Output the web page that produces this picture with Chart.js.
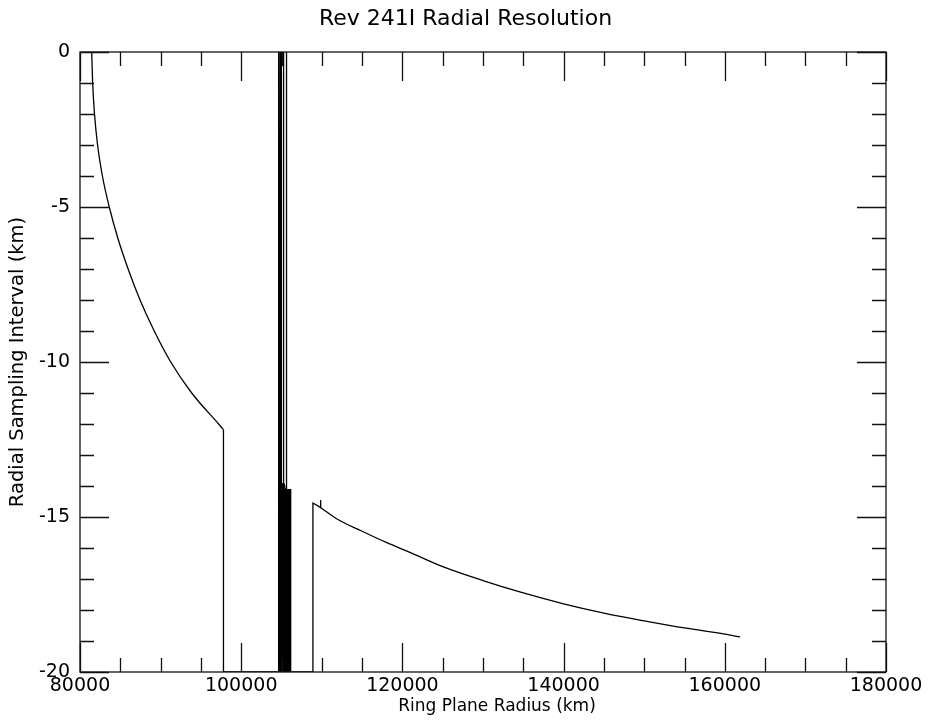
<!DOCTYPE html>
<html>
<head>
<meta charset="utf-8">
<script src="https://cdn.jsdelivr.net/npm/chart.js@4/dist/chart.umd.min.js"></script>
<style>
  body { margin: 0; background: #fff; }
  canvas { display: block; }
</style>
</head>
<body>
<canvas id="resChart" width="931" height="725"></canvas>
<script>
// axis ranges and ticks
const xLimits = [80000, 180000];
const yLimits = [-20, 0];
const xLabelStep = 20000;
const yLabelStep = 5;
const xMinorStep = 5000;
const yMinorStep = 1;

// left curve (inner rings)
const leftX = [81450, 81570, 81800, 82180, 82780, 83630, 84690, 85970, 87450, 89210, 91260, 93860, 97200, 97800];
const leftY = [0, -1, -2, -3, -4, -5, -6, -7, -8, -9, -10, -11, -12, -12.18];

// drop, dense band around 105000 km, rise and small spike
const bandX = [97800, 97800, 104600, 104600, 104630, 104630, 104680, 104680, 104730, 104730,
  104780, 104780, 104820, 104820, 104870, 104870, 104940, 104940, 104990, 104990,
  105020, 105020, 105090, 105090, 105140, 105140, 105190, 105190, 105260, 105260,
  105300, 105300, 105350, 105350, 105400, 105400, 105450, 105450, 105500, 105500,
  105560, 105560, 105600, 105600, 105680, 105680, 105740, 105740, 105800, 105800,
  105860, 105860, 105920, 105920, 105980, 105980, 106040, 106040, 106100, 106100,
  106160, 106160, 108900, 108900, 109820, 109850, 109870];
const bandY = [-12.18, -20, -20, -13.9, 0, -20, -20, -13.9, -13.9, -20,
  -20, -13.9, 0, -20, -20, -13.9, 0, -20, -20, -13.9,
  0, -20, -20, -13.9, -13.9, -20, -20, -13.9, 0, -20,
  -20, -13.9, -13.95, -20, -20, -14.0, -14.1, -20, -20, -14.1,
  -14.1, -20, -20, 0, -14.1, -20, -20, -14.1, -14.1, -20,
  -20, -14.1, -14.1, -20, -20, -14.1, -14.1, -20, -20, -14.1,
  -14.15, -20, -20, -14.55, -14.69, -14.45, -14.70];

// right curve (outer rings)
const rightX = [109870, 112000, 115000, 118000, 121000, 125000, 130000, 135000, 140000, 145000, 150000, 155000, 160000, 161900];
const rightY = [-14.70, -15.08, -15.46, -15.82, -16.15, -16.6, -17.05, -17.45, -17.8, -18.1, -18.35, -18.58, -18.78, -18.87];

const xTitle = "Ring Plane Radius (km)";

function toPoints(xs, ys) {
  return xs.map(function (x, i) { return { x: x, y: ys[i] }; });
}

const fontFamily = "'DejaVu Sans', sans-serif";

// inward ticks on all four sides, the frame and the x axis title
const frameTicks = {
  id: "frameTicks",
  afterDatasetsDraw: function (chart) {
    const ctx = chart.ctx;
    const area = chart.chartArea;
    const xs = chart.scales.x;
    const ys = chart.scales.y;
    ctx.save();
    ctx.strokeStyle = "#111";
    ctx.lineWidth = 1.3;
    ctx.beginPath();
    for (let v = xLimits[0]; v <= xLimits[1]; v += xMinorStep) {
      const px = Math.round(xs.getPixelForValue(v)) + 0.5;
      const len = v % xLabelStep === 0 ? 29 : 14;
      ctx.moveTo(px, area.bottom);
      ctx.lineTo(px, area.bottom - len);
      ctx.moveTo(px, area.top);
      ctx.lineTo(px, area.top + len);
    }
    for (let v = yLimits[0]; v <= yLimits[1]; v += yMinorStep) {
      const py = Math.round(ys.getPixelForValue(v)) + 0.5;
      const len = v % yLabelStep === 0 ? 29 : 14;
      ctx.moveTo(area.left, py);
      ctx.lineTo(area.left + len, py);
      ctx.moveTo(area.right, py);
      ctx.lineTo(area.right - len, py);
    }
    ctx.stroke();
    ctx.strokeRect(area.left, area.top, area.right - area.left, area.bottom - area.top);

    ctx.fillStyle = "#000";
    ctx.font = "17px " + fontFamily;
    ctx.textAlign = "center";
    ctx.textBaseline = "middle";
    ctx.fillText(xTitle, (area.left + area.right) / 2 + 14, 707);
    ctx.restore();
  }
};

const lineStyle = {
  borderColor: "#000",
  borderWidth: 1.3,
  pointRadius: 0,
  fill: false
};

new Chart(document.getElementById("resChart"), {
  type: "line",
  data: {
    datasets: [
      Object.assign({ data: toPoints(leftX, leftY), cubicInterpolationMode: "monotone" }, lineStyle),
      Object.assign({ data: toPoints(bandX, bandY), tension: 0 }, lineStyle),
      Object.assign({ data: toPoints(rightX, rightY), cubicInterpolationMode: "monotone" }, lineStyle)
    ]
  },
  options: {
    responsive: false,
    animation: false,
    devicePixelRatio: 1,
    layout: { padding: 0 },
    plugins: {
      legend: { display: false },
      tooltip: { enabled: false },
      title: {
        display: true,
        text: "Rev 241I Radial Resolution",
        color: "#000",
        font: { family: fontFamily, size: 22, weight: "normal" },
        padding: { top: 6, bottom: 19.6 }
      }
    },
    scales: {
      x: {
        type: "linear",
        min: xLimits[0],
        max: xLimits[1],
        grid: { display: false, drawTicks: false },
        border: { display: false },
        ticks: {
          stepSize: xLabelStep,
          color: "#000",
          padding: 3,
          maxRotation: 0,
          autoSkip: false,
          font: { family: fontFamily, size: 19 },
          callback: function (v) { return String(v); }
        },
        afterFit: function (s) { s.height = 53; }
      },
      y: {
        type: "linear",
        min: yLimits[0],
        max: yLimits[1],
        grid: { display: false, drawTicks: false },
        border: { display: false },
        ticks: {
          stepSize: yLabelStep,
          color: "#000",
          padding: 10,
          font: { family: fontFamily, size: 19 },
          callback: function (v) { return String(v); }
        },
        title: {
          display: true,
          text: "Radial Sampling Interval (km)",
          color: "#000",
          font: { family: fontFamily, size: 19.5 },
          padding: { top: 6, bottom: 0 }
        },
        afterFit: function (s) { s.width = 80; }
      },
      yRight: {
        type: "linear",
        position: "right",
        min: yLimits[0],
        max: yLimits[1],
        grid: { display: false, drawTicks: false },
        border: { display: false },
        ticks: { display: false },
        afterFit: function (s) { s.width = 45; }
      }
    }
  },
  plugins: [frameTicks]
});
</script>
</body>
</html>
